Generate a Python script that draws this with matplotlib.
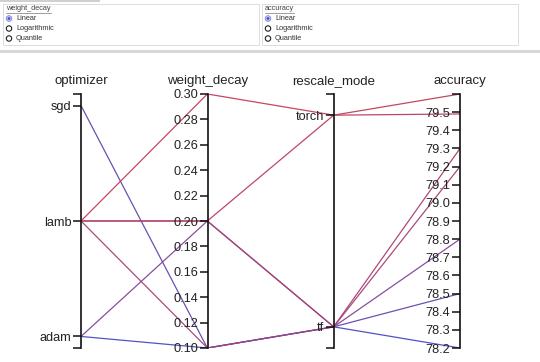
import numpy as np
import matplotlib.pyplot as plt
from matplotlib.colors import LinearSegmentedColormap
from matplotlib.patches import Rectangle, Ellipse
from matplotlib.lines import Line2D

plt.rcParams['font.family'] = ['Liberation Sans', 'DejaVu Sans']

# runs
optimizer = ['lamb', 'lamb', 'lamb', 'lamb', 'adam', 'adam', 'sgd']
weight_decay = [0.30, 0.20, 0.20, 0.10, 0.20, 0.10, 0.10]
rescale_mode = ['torch', 'torch', 'tf', 'tf', 'tf', 'tf', 'tf']
accuracy = [79.6, 79.49, 79.3, 79.2, 78.8, 78.2, 78.5]

opt_cats = ['adam', 'lamb', 'sgd']
rescale_cats = ['tf', 'torch']
wd_ticks = [0.10, 0.12, 0.14, 0.16, 0.18, 0.20, 0.22, 0.24, 0.26, 0.28, 0.30]
acc_ticks = [78.2, 78.3, 78.4, 78.5, 78.6, 78.7, 78.8, 78.9, 79.0, 79.1, 79.2, 79.3, 79.4, 79.5]
dims = ['optimizer', 'weight_decay', 'rescale_mode', 'accuracy']

W, H = 540, 362
fig = plt.figure(figsize=(W / 100, H / 100), dpi=100)


def fx(x):
    return x / W


def fy(y):
    return 1 - y / H


# ---- control panel on top ----
fig.add_artist(Rectangle((0, fy(2)), fx(100), 2 / H, transform=fig.transFigure,
                         facecolor='#d0d0d0', edgecolor='none'))
fig.add_artist(Rectangle((0, fy(53)), 1, 3 / H, transform=fig.transFigure,
                         facecolor='#d8d8d8', edgecolor='none'))
renderer = fig.canvas.get_renderer()
for bx, name in [(3, 'weight_decay'), (262, 'accuracy')]:
    fig.add_artist(Rectangle((fx(bx), fy(45)), fx(256), 41 / H, transform=fig.transFigure,
                             facecolor='white', edgecolor='#dddddd', lw=0.7))
    t = fig.text(fx(bx + 3), fy(9), name, fontsize=5.3, color='#444444', va='center')
    tw = t.get_window_extent(renderer).width
    fig.add_artist(Line2D([fx(bx + 3), fx(bx + 3 + tw)], [fy(12.8), fy(12.8)],
                          transform=fig.transFigure, color='#555555', lw=0.4))
    for k, opt in enumerate(['Linear', 'Logarithmic', 'Quantile']):
        cy = 18.5 + k * 10
        if k == 0:
            fig.add_artist(Ellipse((fx(bx + 6), fy(cy)), 5.6 / W, 5.6 / H, transform=fig.transFigure,
                                   facecolor='#c9cdf2', edgecolor='#7c82e0', lw=0.6))
            fig.add_artist(Ellipse((fx(bx + 6), fy(cy)), 2.8 / W, 2.8 / H, transform=fig.transFigure,
                                   facecolor='#4a50c8', edgecolor='none'))
        else:
            fig.add_artist(Ellipse((fx(bx + 6), fy(cy)), 5.4 / W, 5.4 / H, transform=fig.transFigure,
                                   facecolor='white', edgecolor='#222222', lw=0.8))
        fig.text(fx(bx + 13), fy(cy), opt, fontsize=5.3, color='#333333', va='center')

# ---- parallel coordinates ----
xs = [81, 208, 334, 460]
top, bot = 94, 348
left_f, bot_f = fx(xs[0]), fy(bot)
width_f, height_f = fx(xs[-1] - xs[0]), (bot - top) / H

pad = 0.1
limits = [(-pad, len(opt_cats) - 1 + pad), (0.10, 0.30),
          (-pad, len(rescale_cats) - 1 + pad), (78.2, 79.6)]
values = [[opt_cats.index(o) for o in optimizer], weight_decay,
          [rescale_cats.index(r) for r in rescale_mode], accuracy]

host = fig.add_axes([left_f, bot_f, width_f, height_f])
host.set_xlim(0, len(dims) - 1)
host.set_ylim(0, 1)
host.axis('off')

cmap = LinearSegmentedColormap.from_list('acc', ['#4a48c4', '#8a4590', '#c23c58'])
acc = np.array(accuracy)
cnorm = (acc - acc.min()) / (acc.max() - acc.min())
norm = np.array([[(v - lo) / (hi - lo) for v in vals] for vals, (lo, hi) in zip(values, limits)])
for i in np.argsort(acc):
    host.plot(range(len(dims)), norm[:, i], color=cmap(cnorm[i]), lw=0.9, alpha=0.95,
              solid_capstyle='butt')

tick_sets = [(range(len(opt_cats)), opt_cats), (wd_ticks, ['%.2f' % t for t in wd_ticks]),
             (range(len(rescale_cats)), rescale_cats), (acc_ticks, ['%.1f' % t for t in acc_ticks])]
for x, name, (lo, hi), (tk, tl) in zip(xs, dims, limits, tick_sets):
    ax = fig.add_axes([fx(x), bot_f, 0.0001, height_f])
    ax.set_ylim(lo, hi)
    ax.patch.set_visible(False)
    for s in ['top', 'right', 'bottom']:
        ax.spines[s].set_visible(False)
    ax.spines['left'].set_linewidth(1.2)
    ax.spines['left'].set_color('#111111')
    ax.set_xticks([])
    ax.set_yticks(list(tk))
    ax.set_yticklabels(tl)
    ax.set_yticks([lo, hi], minor=True)
    ax.tick_params(axis='y', which='both', direction='out', length=5.5, width=1.1,
                   color='#111111', labelsize=9.2, labelcolor='#222222', pad=1.5)
    ax.set_title(name, fontsize=9.5, color='#222222', pad=7)

fig.savefig('out.png', dpi=100)
